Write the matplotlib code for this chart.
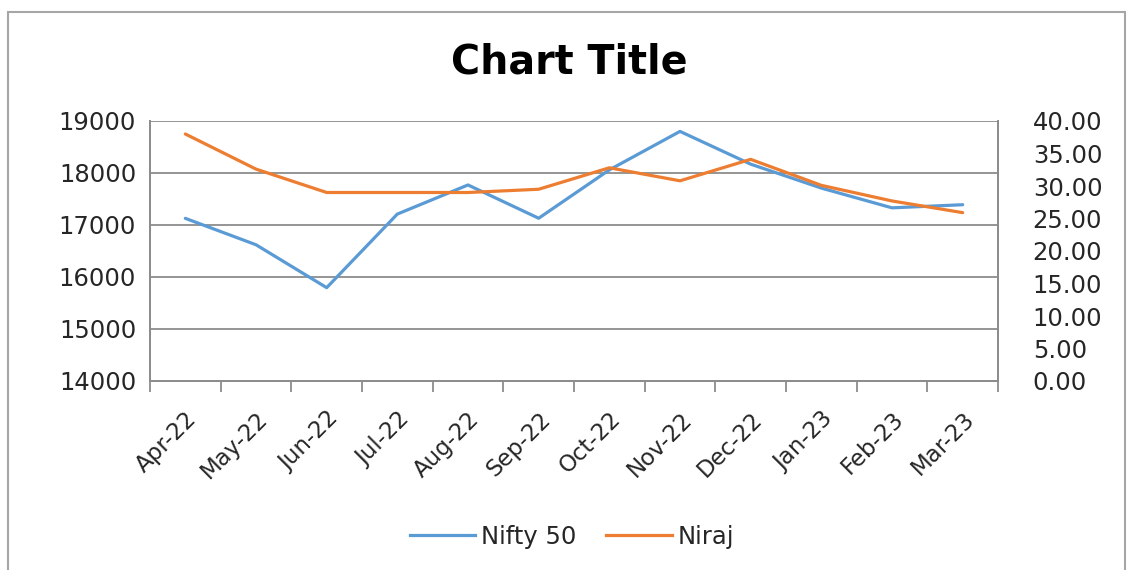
import matplotlib
matplotlib.use("Agg")
import matplotlib.pyplot as plt
from matplotlib.lines import Line2D
from matplotlib.patches import Rectangle

months = ["Apr-22", "May-22", "Jun-22", "Jul-22", "Aug-22", "Sep-22",
          "Oct-22", "Nov-22", "Dec-22", "Jan-23", "Feb-23", "Mar-23"]
nifty50 = [17128, 16620, 15795, 17210, 17770, 17130,
           18060, 18800, 18170, 17710, 17330, 17390]
niraj = [38.0, 32.6, 29.0, 29.0, 29.0, 29.5,
         32.8, 30.8, 34.1, 30.1, 27.7, 25.9]
left_ticks = [14000, 15000, 16000, 17000, 18000, 19000]
right_ticks = [0, 5, 10, 15, 20, 25, 30, 35, 40]

BLUE = "#5B9BD5"
ORANGE = "#ED7D31"
GRID = "#8C8C8C"
TXT = "#262626"
FONT = "DejaVu Sans"
FS = 17.5

W, H = 1129, 570
fig = plt.figure(figsize=(W / 100, H / 100), dpi=100)

# outer chart border
fig.patches.append(Rectangle((8 / W, -0.05), (1125 - 8) / W, 1.05 - 12 / H,
                             transform=fig.transFigure, fill=False,
                             edgecolor="#A6A6A6", linewidth=1.5))

ax = fig.add_axes([150 / W, 1 - 381 / H, (998 - 150) / W, (381 - 121) / H])
ax2 = ax.twinx()

x = list(range(len(months)))
ax.plot(x, nifty50, color=BLUE, linewidth=2.3, solid_joinstyle="round",
        solid_capstyle="round", zorder=3)
ax2.plot(x, niraj, color=ORANGE, linewidth=2.3, solid_joinstyle="round",
         solid_capstyle="round", zorder=3)

ax.set_xlim(-0.5, len(months) - 0.5)
ax.set_ylim(14000, 19000)
ax2.set_ylim(0, 40)

ax.set_yticks(left_ticks)
ax.set_yticklabels([str(v) for v in left_ticks])
ax2.set_yticks(right_ticks)
ax2.set_yticklabels([f"{v:.2f}" for v in right_ticks])

ax.grid(axis="y", color=GRID, linewidth=1.3)
ax.set_axisbelow(True)

# category ticks between categories, labels centred on categories
ax.set_xticks([i - 0.5 for i in range(len(months) + 1)])
ax.set_xticklabels([])
ax.set_xticks(x, minor=True)
ax.set_xticklabels(months, minor=True, rotation=45, ha="right", va="top",
                   rotation_mode="anchor", fontsize=16.5, family=FONT, color=TXT)
ax.tick_params(axis="x", which="major", length=8, width=1.3, color=GRID, direction="out")
ax.tick_params(axis="x", which="minor", length=0, pad=19)
ax.tick_params(axis="y", length=0, pad=10, labelsize=FS, labelcolor=TXT)
ax2.tick_params(axis="y", length=0, pad=25, labelsize=FS, labelcolor=TXT)
for lbl in ax.get_yticklabels() + ax2.get_yticklabels():
    lbl.set_family(FONT)

for a in (ax, ax2):
    for s in a.spines.values():
        s.set_color(GRID)
        s.set_linewidth(1.3)
    a.spines["top"].set_visible(False)

fig.text(569 / W, 1 - 62 / H, "Chart Title", ha="center", va="center",
         fontsize=28.5, fontweight="bold", family=FONT, color="black")

handles = [Line2D([], [], color=BLUE, linewidth=2.3),
           Line2D([], [], color=ORANGE, linewidth=2.3)]
fig.legend(handles, ["Nifty 50", "Niraj"], loc="center",
           bbox_to_anchor=(572 / W, 1 - 537 / H), ncol=2, frameon=False,
           prop={"family": FONT, "size": FS}, handlelength=2.7,
           handletextpad=0.25, columnspacing=1.2, labelcolor=TXT,
           borderpad=0)

fig.savefig("out.png", dpi=100, facecolor="white")
